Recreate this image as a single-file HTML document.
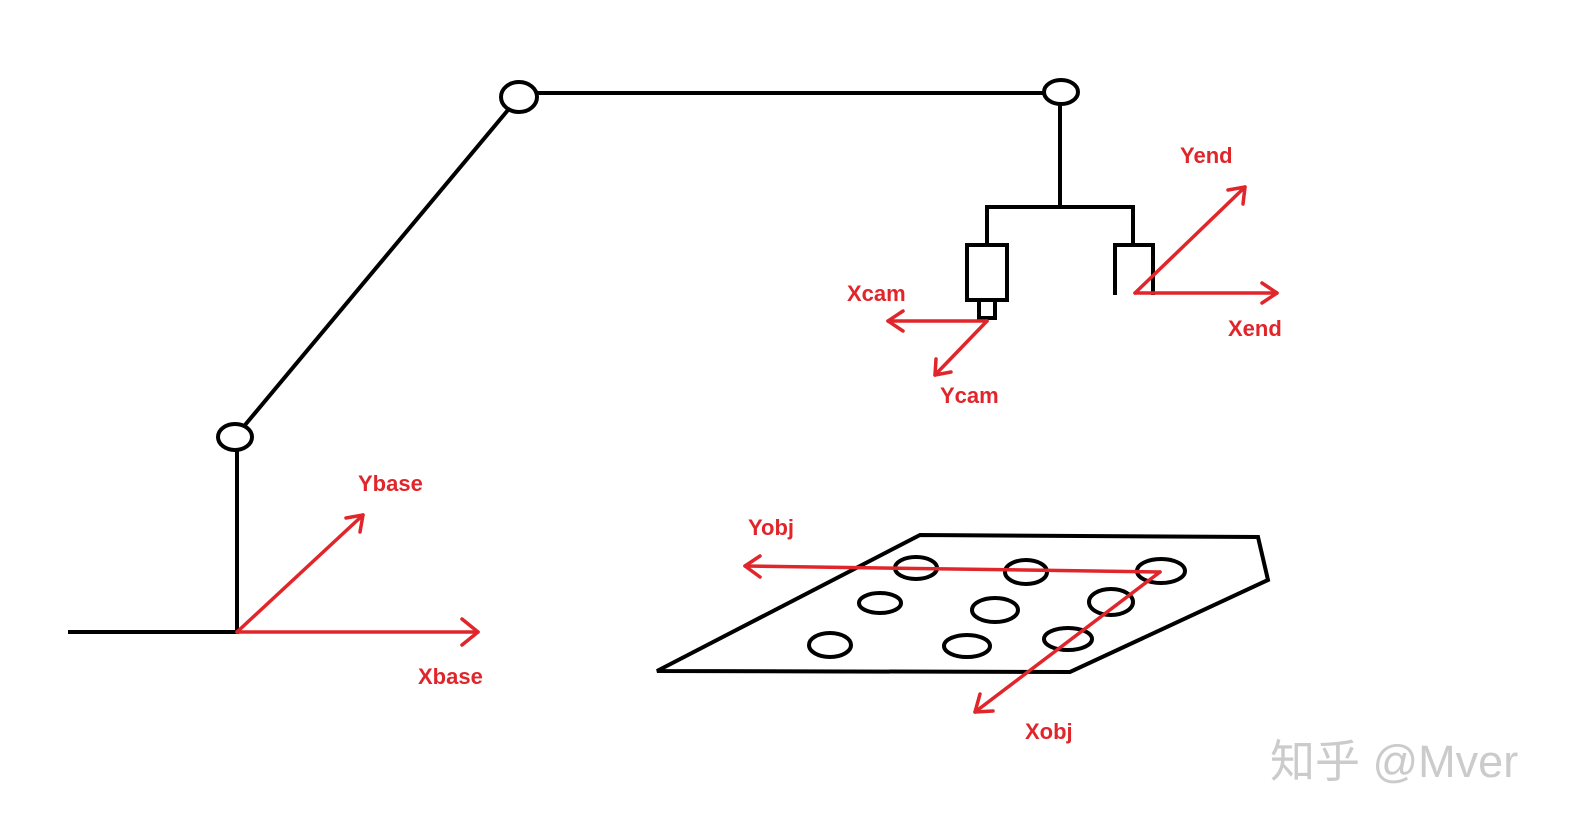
<!DOCTYPE html>
<html><head><meta charset="utf-8"><style>
html,body{margin:0;padding:0;background:#fff;}
svg{display:block}
text.r{fill:#e0262b;font-family:"Liberation Sans",sans-serif;font-weight:bold;font-size:22px}
</style></head><body>
<svg width="1583" height="831" viewBox="0 0 1583 831" xmlns="http://www.w3.org/2000/svg">
<g stroke="#000" stroke-width="4" fill="none">
<line x1="68" y1="632" x2="239" y2="632"/>
<line x1="237" y1="632" x2="237" y2="450"/>
<ellipse cx="235" cy="437" rx="17" ry="13"/>
<line x1="245" y1="425" x2="508" y2="110"/>
<ellipse cx="519" cy="97" rx="18" ry="15"/>
<line x1="537" y1="93" x2="1044" y2="93"/>
<ellipse cx="1061" cy="92" rx="17" ry="12"/>
<line x1="1060" y1="104" x2="1060" y2="207"/>
<polyline points="987,245 987,207 1133,207 1133,245"/>
<rect x="967" y="245" width="40" height="55"/>
<rect x="979" y="300" width="16" height="18"/>
<polyline points="1115,295 1115,245 1153,245 1153,295"/>
<polygon points="657,671 920,535 1258,537 1268,580 1070,672"/>
<ellipse cx="916" cy="568" rx="21" ry="11"/>
<ellipse cx="1026" cy="572" rx="21" ry="12"/>
<ellipse cx="1161" cy="571" rx="24" ry="12"/>
<ellipse cx="880" cy="603" rx="21" ry="10"/>
<ellipse cx="995" cy="610" rx="23" ry="12"/>
<ellipse cx="1111" cy="602" rx="22" ry="13"/>
<ellipse cx="830" cy="645" rx="21" ry="12"/>
<ellipse cx="967" cy="646" rx="23" ry="11"/>
<ellipse cx="1068" cy="639" rx="24" ry="11"/>
</g>
<g stroke="#e0262b" stroke-width="3.5" fill="none" stroke-linecap="round" stroke-linejoin="round">
<line x1="1135" y1="293" x2="1277" y2="293"/><polyline points="1262,283 1277,293 1262,303"/>
<line x1="1135" y1="293" x2="1245" y2="187"/><polyline points="1228,190 1245,187 1243,204"/>
<line x1="987" y1="321" x2="888" y2="321"/><polyline points="903,311 888,321 903,331"/>
<line x1="987" y1="321" x2="935" y2="375"/><polyline points="936,359 935,375 951,372"/>
<line x1="237" y1="632" x2="363" y2="515"/><polyline points="346,518 363,515 360,532"/>
<line x1="237" y1="632" x2="478" y2="632"/><polyline points="462,619 478,632 462,645"/>
<line x1="1160" y1="572" x2="745" y2="566"/><polyline points="760,556 745,566 760,577"/>
<line x1="1160" y1="572" x2="975" y2="712"/><polyline points="980,694 975,712 993,711"/>
</g>
<text class="r" x="1180" y="163">Yend</text>
<text class="r" x="1228" y="336">Xend</text>
<text class="r" x="847" y="301">Xcam</text>
<text class="r" x="940" y="403">Ycam</text>
<text class="r" x="358" y="491">Ybase</text>
<text class="r" x="418" y="684">Xbase</text>
<text class="r" x="748" y="535">Yobj</text>
<text class="r" x="1025" y="739">Xobj</text>
<text x="1270" y="777" fill="#cbcbcb" font-family="'Liberation Sans','Noto Sans CJK SC',sans-serif" font-size="45">知乎 @Mver</text>
</svg>
</body></html>
